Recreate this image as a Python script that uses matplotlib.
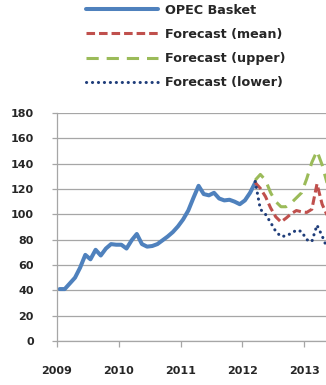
import numpy as np
import matplotlib
matplotlib.use("Agg")
import matplotlib.pyplot as plt

# OPEC basket, monthly averages Jan 2009 - Mar 2012
opec_values = [41, 41, 45.5, 50, 58, 68, 64.5, 72, 67.5, 73, 76.5, 76,
               76, 73, 79.5, 84.5, 76.5, 74.5, 75, 76.5, 79.5, 82.5, 86, 90.5,
               96, 103, 113, 122.5, 116, 115, 117, 112.5, 111, 111.5, 110, 108,
               111, 117, 125]
opec_t = 2009 + (np.arange(len(opec_values)) + 0.5) / 12

# forecasts, monthly Mar 2012 - May 2013
fc_t = 2012 + (np.arange(2, 17) + 0.5) / 12
fc_mean = [125, 120.5, 114, 105, 98, 94, 97, 100.5, 103, 102, 101.5, 104, 124, 108, 99]
fc_upper = [127, 131.5, 127, 117, 110, 106, 106, 109, 113, 117, 128, 141, 150, 139, 124]
fc_lower = [126, 104, 100, 93.5, 86.5, 82.5, 83, 85, 87.5, 86.5, 80, 78.5, 91.5, 83, 73]

years = [2009, 2010, 2011, 2012, 2013]
yticks = list(range(0, 181, 20))

grey = "#a6a6a6"
txt = "#262626"

fig = plt.figure(figsize=(3.26, 3.85), dpi=100)
# axes runs past the right edge of the figure, like the cropped original
ax = fig.add_axes([57 / 326, 44 / 385, 278 / 326, 228 / 385])

ax.plot(opec_t, opec_values, color="#4f81bd", lw=2.9, label="OPEC Basket",
        solid_joinstyle="round", solid_capstyle="round")
ax.plot(fc_t, fc_mean, color="#c0504d", lw=2.2, dashes=(2.8, 1.3),
        label="Forecast (mean)")
ax.plot(fc_t, fc_upper, color="#9bbb59", lw=2.2, dashes=(4.0, 2.6),
        label="Forecast (upper)")
ax.plot(fc_t, fc_lower, color="#1f3d7a", lw=2.2, dashes=(0.05, 1.9),
        dash_capstyle="round", label="Forecast (lower)")

ax.set_xlim(2009, 2013.5)
ax.set_ylim(0, 180)
ax.set_xticks(years)
ax.set_xticklabels([str(y) for y in years])
ax.set_yticks(yticks)

ax.grid(axis="y", color=grey, lw=0.9)
ax.set_axisbelow(True)
for side in ["top", "right"]:
    ax.spines[side].set_visible(False)
for side in ["left", "bottom"]:
    ax.spines[side].set_color(grey)
    ax.spines[side].set_linewidth(0.9)

ax.tick_params(axis="y", length=3.6, width=0.9, color=grey, pad=13,
               labelsize=8, labelcolor=txt)
ax.tick_params(axis="x", length=4.3, width=0.9, color=grey, pad=14,
               labelsize=8, labelcolor=txt)
for lab in ax.get_xticklabels() + ax.get_yticklabels():
    lab.set_fontweight("bold")

leg = fig.legend(loc="upper left", bbox_to_anchor=(86 / 326, 1 - 3.5 / 385),
                 frameon=False, handlelength=5.6, handletextpad=0.6,
                 labelspacing=0.88, borderpad=0, borderaxespad=0,
                 prop={"size": 9.2, "weight": "bold"})
for t in leg.get_texts():
    t.set_color(txt)

fig.savefig("out.png", dpi=100)
